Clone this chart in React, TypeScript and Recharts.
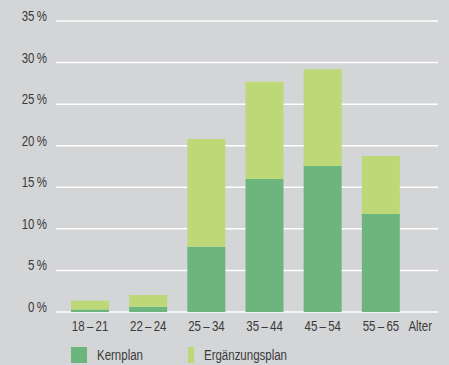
import React from 'react';
import { BarChart, Bar, XAxis, YAxis, CartesianGrid } from 'recharts';

const ageGroups = ['18\u2009–\u200921', '22\u2009–\u200924', '25\u2009–\u200934', '35\u2009–\u200944', '45\u2009–\u200954', '55\u2009–\u200965'];
const kernplan = [0.3, 0.64, 7.85, 16.0, 17.55, 11.8];
const ergaenzungsplan = [1.06, 1.4, 12.95, 11.7, 11.65, 6.95];
const yTicks = [0, 5, 10, 15, 20, 25, 30, 35];

const KERN_COLOR = '#6cb67e';
const ERG_COLOR = '#bcd877';
const TEXT_COLOR = '#3a3a3a';
const FONT = "'Liberation Sans', Arial, sans-serif";
// condensed look: squeeze a regular sans horizontally
const SQUEEZE = 'scale(0.82,1)';

const data = ageGroups.map((group, i) => ({
  group,
  kern: kernplan[i],
  erg: ergaenzungsplan[i],
}));

const legendItems = [
  { label: 'Kernplan', color: KERN_COLOR },
  { label: 'Ergänzungsplan', color: ERG_COLOR },
];

const XTick = (props: any) => {
  const { x, y, payload } = props;
  return (
    <g transform={`translate(${x},${y})`}>
      <text transform={SQUEEZE} textAnchor="middle" dy="0.71em" fill={TEXT_COLOR} fontSize={14} fontFamily={FONT}>
        {payload.value}
      </text>
    </g>
  );
};

const YTick = (props: any) => {
  const { x, y, payload } = props;
  return (
    <g transform={`translate(${x},${y})`}>
      <text transform={SQUEEZE} textAnchor="end" dy={0} fill={TEXT_COLOR} fontSize={14} fontFamily={FONT}>
        {`${payload.value}\u2009%`}
      </text>
    </g>
  );
};

const AlterLabel = (props: any) => {
  const { viewBox } = props;
  const x = viewBox.x + viewBox.width - 6;
  const y = viewBox.y + 19;
  return (
    <g transform={`translate(${x},${y})`}>
      <text transform={SQUEEZE} textAnchor="end" fill={TEXT_COLOR} fontSize={14} fontFamily={FONT}>
        Alter
      </text>
    </g>
  );
};

const App: React.FC = () => {
  return (
    <div style={{ position: 'fixed', left: 0, top: 0, width: 449, height: 365, background: '#d4d5d7', fontFamily: FONT }}>
      <BarChart
        width={449}
        height={342}
        data={data}
        margin={{ top: 21, right: 11, bottom: 0, left: 0 }}
        barSize={38}
      >
        <CartesianGrid vertical={false} stroke="#ffffff" strokeWidth={1.5} />
        <XAxis
          dataKey="group"
          axisLine={false}
          tickLine={false}
          tickSize={0}
          tickMargin={9}
          height={30}
          padding={{ left: 5, right: 28 }}
          tick={<XTick />}
          label={<AlterLabel />}
        />
        <YAxis
          domain={[0, 35]}
          ticks={yTicks}
          axisLine={false}
          tickLine={false}
          tickSize={0}
          tickMargin={9}
          width={56}
          tick={<YTick />}
        />
        <Bar dataKey="kern" stackId="a" fill={KERN_COLOR} isAnimationActive={false} />
        <Bar dataKey="erg" stackId="a" fill={ERG_COLOR} isAnimationActive={false} />
      </BarChart>
      <div style={{ position: 'absolute', left: 71, top: 347, display: 'flex' }}>
        {legendItems.map((item) => (
          <div key={item.label} style={{ display: 'flex', alignItems: 'center', width: 117 }}>
            <span style={{ width: 16, height: 16, background: item.color, display: 'inline-block' }} />
            <span
              style={{
                marginLeft: 10,
                fontSize: 14,
                color: TEXT_COLOR,
                lineHeight: '16px',
                display: 'inline-block',
                transform: SQUEEZE,
                transformOrigin: 'left center',
              }}
            >
              {item.label}
            </span>
          </div>
        ))}
      </div>
    </div>
  );
};

export default App;
